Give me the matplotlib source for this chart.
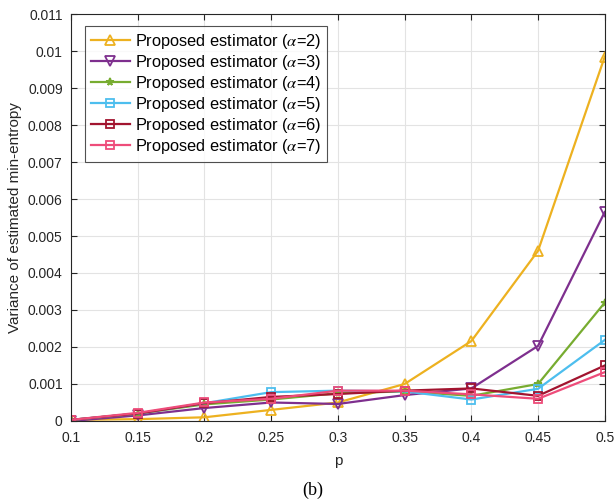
import numpy as np
import matplotlib.pyplot as plt

plt.rcParams['font.family'] = ['Liberation Sans', 'DejaVu Sans']
plt.rcParams['mathtext.fontset'] = 'stix'

# probabilities and variance of the min-entropy estimate for each alpha
p = [0.1, 0.15, 0.2, 0.25, 0.3, 0.35, 0.4, 0.45, 0.5]
var_a2 = [0.00003, 0.00005, 0.0001, 0.0003, 0.0005, 0.001, 0.00216, 0.0046, 0.00985]
var_a3 = [0.0, 0.00015, 0.00035, 0.0005, 0.00046, 0.0007, 0.00088, 0.00203, 0.00565]
var_a4 = [0.00003, 0.0002, 0.00045, 0.00058, 0.00075, 0.0008, 0.00068, 0.001, 0.0032]
var_a5 = [0.00003, 0.0002, 0.00048, 0.00078, 0.00082, 0.0008, 0.00058, 0.00087, 0.00219]
var_a6 = [0.00003, 0.0002, 0.00048, 0.00065, 0.00073, 0.00082, 0.00088, 0.00068, 0.0015]
var_a7 = [0.00003, 0.00022, 0.0005, 0.0006, 0.00082, 0.00082, 0.00072, 0.0006, 0.00132]

series = [
    (var_a2, 2, '#EDB120', '^', 'none'),
    (var_a3, 3, '#7E2F8E', 'v', 'none'),
    (var_a4, 4, '#77AC30', '*', '#77AC30'),
    (var_a5, 5, '#4DBEEE', 's', 'none'),
    (var_a6, 6, '#A2142F', 's', 'none'),
    (var_a7, 7, '#EE4C7A', 's', 'none'),
]

fig = plt.figure(figsize=(6.14, 5.04), dpi=100)
ax = fig.add_axes([0.1156, 0.1647, 0.8694, 0.8075])

for vals, a, col, mk, fc in series:
    ax.plot(p, vals, color=col, marker=mk, markerfacecolor=fc, markeredgecolor=col,
            markersize=7 if mk in '^v' else 5.5, markeredgewidth=1.3, linewidth=1.6,
            label=r'Proposed estimator ($\alpha$=%d)' % a)

ax.set_xlim(0.1, 0.5)
ax.set_ylim(0, 0.011)
ax.set_xticks(p)
ax.set_xticklabels(['0.1', '0.15', '0.2', '0.25', '0.3', '0.35', '0.4', '0.45', '0.5'])
yt = np.arange(0, 0.0111, 0.001)
ax.set_yticks(yt)
ax.set_yticklabels(['0'] + ['%g' % v for v in yt[1:]])
ax.tick_params(direction='in', top=True, right=True, labelsize=10, colors='#262626', length=4)
ax.tick_params(axis='x', pad=7)
ax.tick_params(axis='y', pad=6)
ax.grid(True, color='#e3e3e3', linewidth=0.8)
ax.set_axisbelow(True)
for s in ax.spines.values():
    s.set_color('#262626')
    s.set_linewidth(0.8)

ax.set_xlabel('p', fontsize=11, color='#262626', labelpad=7)
ax.set_ylabel('Variance of estimated min-entropy', fontsize=11, color='#262626')

leg = ax.legend(loc='upper left', bbox_to_anchor=(0.02, 0.978), fontsize=11.8, frameon=True,
                fancybox=False, edgecolor='#262626', handlelength=2.4, labelspacing=0.12,
                borderpad=0.35, handletextpad=0.3, borderaxespad=0.2)
leg.get_frame().set_linewidth(0.8)

fig.text(0.51, 0.018, '(b)', fontsize=13, family='Liberation Serif', ha='center')

fig.savefig('out.png', dpi=100)
